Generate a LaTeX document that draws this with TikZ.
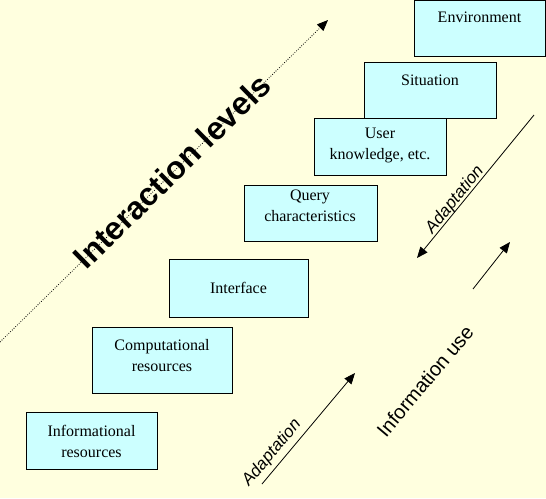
\documentclass[tikz,border=0pt]{standalone}
\usepackage{fontspec}
\setmainfont{Liberation Serif}
\newfontfamily\arialfont{Liberation Sans}
\usetikzlibrary{arrows.meta}
\definecolor{bgcol}{HTML}{FFFFDF}
\definecolor{boxcol}{HTML}{CCFFFF}
\tikzset{
  levelbox/.style={draw=black, fill=boxcol, line width=1pt, inner sep=0pt, anchor=north west},
  boxtext/.style={font=\fontsize{16}{21}\selectfont, align=center, inner sep=0pt},
  arr/.style={line width=0.8pt, -{Triangle[length=11pt,width=9pt]}},
  dotarr/.style={line width=0.8pt, dash pattern=on 0.8pt off 1.6pt, -{Triangle[length=11pt,width=9pt]}},
  adapt/.style={font=\arialfont\itshape\fontsize{17}{19}\selectfont, inner sep=0pt},
}
\begin{document}
\begin{tikzpicture}[x=1pt, y=-1pt]
\fill[bgcol] (0,0) rectangle (546,498);
\useasboundingbox (0,0) rectangle (546,498);

% boxes
\node[levelbox, minimum width=131pt, minimum height=56pt] (env) at (414,0) {};
\node[levelbox, minimum width=132pt, minimum height=56pt] (sit) at (364,62) {};
\node[levelbox, minimum width=132pt, minimum height=57pt] (user) at (314,118) {};
\node[levelbox, minimum width=133pt, minimum height=56pt] (query) at (244,185) {};
\node[levelbox, minimum width=139pt, minimum height=58pt] (iface) at (169,259) {};
\node[levelbox, minimum width=140pt, minimum height=66pt] (comp) at (92,327) {};
\node[levelbox, minimum width=131pt, minimum height=57pt] (info) at (26,412) {};

% box texts
\node[boxtext] (envT) at (479.5,17) {Environment};
\node[boxtext] (sitT) at (430,80) {Situation};
\node[boxtext] (userT) at (380,145) {User\\knowledge, etc.};
\node[boxtext] (queryT) at (310,206) {Query\\characteristics};
\node[boxtext] (ifaceT) at (238.5,288) {Interface};
\node[boxtext] (compT) at (162,356) {Computational\\resources};
\node[boxtext] (infoT) at (91.5,441) {Informational\\resources};

% interaction levels axis
\coordinate (ilStart) at (0,342);
\coordinate (ilEnd) at (328,20);
\draw[dotarr] (ilStart) -- (ilEnd);
\node[font=\arialfont\bfseries\fontsize{32}{34}\selectfont, rotate=44.5, inner sep=0pt] (ilT) at (172,171) {Interaction levels};

% adaptation arrows
\coordinate (a1s) at (262,484);
\coordinate (a1e) at (355,373);
\draw[arr] (a1s) -- (a1e);
\node[adapt, rotate=50] (a1T) at (272,453) {Adaptation};

\coordinate (a2s) at (534,115);
\coordinate (a2e) at (417,258);
\draw[arr] (a2s) -- (a2e);
\node[adapt, rotate=50.7] (a2T) at (455,200) {Adaptation};

\coordinate (a3s) at (473,289);
\coordinate (a3e) at (510,242);
\draw[arr] (a3s) -- (a3e);

\node[font=\arialfont\fontsize{20}{22}\selectfont, rotate=50, inner sep=0pt] (iuT) at (425,381) {Information use};
\end{tikzpicture}
\end{document}
